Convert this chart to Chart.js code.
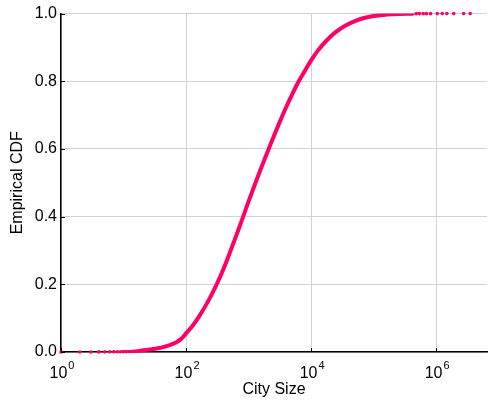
<!DOCTYPE html>
<html>
<head>
<meta charset="utf-8">
<script src="https://cdn.jsdelivr.net/npm/chart.js@4/dist/chart.umd.min.js"></script>
<style>
  html, body { margin: 0; padding: 0; background: #fff; }
  #wrap { width: 491px; height: 403px; }
</style>
</head>
<body>
<div id="wrap"><canvas id="chart"></canvas></div>
<script>
'use strict';

// main curve
let citySize = [20, 30, 40, 50, 60, 70, 85, 100, 130, 160, 210, 260, 314, 400, 500, 630,
  811, 1000, 1260, 1600, 2077, 2600, 3200, 4000, 5000, 6220, 8000, 10000, 13000,
  18000, 25000, 35000, 50000, 70000, 100000, 160000, 250000, 420000];
let cdfValues = [0.005, 0.009, 0.013, 0.018, 0.023, 0.029, 0.040, 0.055, 0.080, 0.104,
  0.140, 0.172, 0.203, 0.247, 0.293, 0.342, 0.398, 0.445, 0.495, 0.545, 0.598, 0.643,
  0.683, 0.724, 0.762, 0.797, 0.832, 0.862, 0.892, 0.922, 0.946, 0.964, 0.978, 0.987,
  0.993, 0.997, 0.999, 0.9998];

// isolated dots at both ends
let lowSizes = [1, 2, 3, 4, 5, 6, 7, 8, 9, 10, 11, 12, 13, 14, 15, 16, 17, 18, 19];
let lowCdf = [0, 0.0001, 0.0002, 0.0003, 0.0004, 0.0005, 0.0006, 0.0007, 0.0008, 0.001,
  0.0012, 0.0014, 0.0016, 0.0019, 0.0022, 0.0026, 0.003, 0.0035, 0.004];
let highSizes = [480000, 540000, 620000, 700000, 813000, 1040000, 1250000, 1480000,
  1910000, 2750000, 3500000];
let highCdf = [0.9998, 0.9998, 0.9999, 0.9999, 0.9999, 1, 1, 1, 1, 1, 1];

let xTicks = [1, 100, 10000, 1000000];
let xExponents = ['0', '2', '4', '6'];
let yTicks = [0, 0.2, 0.4, 0.6, 0.8, 1.0];

let pink = '#ff0066';
let fontName = '"Liberation Sans", Arial, Helvetica, sans-serif';

function toPoints(xs, ys) {
  let pts = [];
  for (let i = 0; i < xs.length; i++) {
    pts.push({ x: xs[i], y: ys[i] });
  }
  return pts;
}

// draws the 10^n labels and the small inward ticks
let axisExtras = {
  id: 'axisExtras',
  afterDraw(chart) {
    let ctx = chart.ctx;
    let xs = chart.scales.x;
    let ys = chart.scales.y;
    let area = chart.chartArea;
    ctx.save();
    ctx.strokeStyle = '#000';
    ctx.lineWidth = 1;
    for (let i = 0; i < xTicks.length; i++) {
      let px = Math.round(xs.getPixelForValue(xTicks[i])) + 0.5;
      ctx.beginPath();
      ctx.moveTo(px, area.bottom);
      ctx.lineTo(px, area.bottom - 4);
      ctx.stroke();
    }
    for (let i = 0; i < yTicks.length; i++) {
      let py = Math.round(ys.getPixelForValue(yTicks[i])) + 0.5;
      ctx.beginPath();
      ctx.moveTo(area.left, py);
      ctx.lineTo(area.left + 4, py);
      ctx.stroke();
    }
    ctx.fillStyle = '#000';
    ctx.textBaseline = 'alphabetic';
    ctx.textAlign = 'left';
    for (let i = 0; i < xTicks.length; i++) {
      let px = xs.getPixelForValue(xTicks[i]);
      ctx.font = '16px ' + fontName;
      let w1 = ctx.measureText('10').width;
      ctx.font = '11px ' + fontName;
      let w2 = ctx.measureText(xExponents[i]).width;
      let start = px - (w1 + w2 + 1) / 2 + 1;
      ctx.font = '16px ' + fontName;
      ctx.fillText('10', start, 378);
      ctx.font = '11px ' + fontName;
      ctx.fillText(xExponents[i], start + w1 + 1, 369);
    }
    ctx.restore();
  }
};

function renderChart() {
  let chartDatasets = [
    {
      label: 'curve',
      data: toPoints(citySize, cdfValues),
      showLine: true,
      borderColor: pink,
      borderWidth: 4,
      borderCapStyle: 'round',
      cubicInterpolationMode: 'monotone',
      pointRadius: 0
    },
    {
      label: 'low tail',
      data: toPoints(lowSizes, lowCdf),
      showLine: false,
      clip: false,
      backgroundColor: pink,
      borderWidth: 0,
      pointRadius: 1.8
    },
    {
      label: 'high tail',
      data: toPoints(highSizes, highCdf),
      showLine: false,
      clip: false,
      backgroundColor: pink,
      borderWidth: 0,
      pointRadius: 1.8
    }
  ];

  let chartOptions = {
    responsive: true,
    maintainAspectRatio: false,
    animation: false,
    layout: { padding: { top: 13, right: 1, left: 0, bottom: 0 } },
    plugins: {
      legend: { display: false },
      tooltip: { enabled: false }
    },
    scales: {
      x: {
        type: 'logarithmic',
        min: 1,
        max: 6500000,
        afterBuildTicks(scale) {
          scale.ticks = xTicks.map(v => ({ value: v }));
        },
        afterFit(scale) { scale.height = 51; },
        ticks: { display: false },
        grid: { color: '#d2d2d2', lineWidth: 1, drawTicks: false },
        border: { color: '#000', width: 1.5 },
        title: {
          display: true,
          text: 'City Size',
          color: '#000',
          font: { family: fontName, size: 16 },
          padding: { top: 0, bottom: 4 }
        }
      },
      y: {
        min: 0,
        max: 1,
        afterBuildTicks(scale) {
          scale.ticks = yTicks.map(v => ({ value: v }));
        },
        afterFit(scale) { scale.width = 61; },
        ticks: {
          color: '#000',
          padding: 4,
          font: { family: fontName, size: 16 },
          callback: v => Number(v).toFixed(1)
        },
        grid: { color: '#d2d2d2', lineWidth: 1, drawTicks: false },
        border: { color: '#000', width: 1.5 },
        title: {
          display: true,
          text: 'Empirical CDF',
          color: '#000',
          font: { family: fontName, size: 16 },
          padding: { top: 8, bottom: 0 }
        }
      }
    }
  };

  new Chart(document.getElementById('chart'), {
    type: 'scatter',
    data: { datasets: chartDatasets },
    options: chartOptions,
    plugins: [axisExtras]
  });
}

renderChart();
</script>
</body>
</html>
